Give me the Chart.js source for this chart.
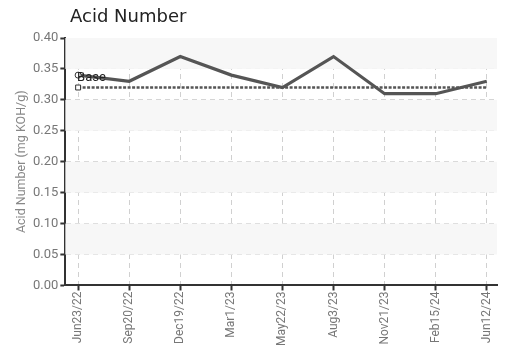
<!DOCTYPE html>
<html>
<head>
<meta charset="utf-8">
<script src="https://cdn.jsdelivr.net/npm/chart.js@4"></script>
<style>
    html, body { margin: 0; padding: 0; background: #fff; }
    #wrap { position: relative; width: 506px; height: 347px; }
    #title {
        position: absolute; left: 70px; top: 5px;
        font-family: 'DejaVu Sans', sans-serif; font-size: 18px; color: #222;
    }
</style>
</head>
<body>
<div id="wrap">
    <canvas id="acid-chart" width="506" height="347"></canvas>
    <div id="title">Acid Number</div>
</div>
<script>
// Sample dates and measured acid number
const dateLabels = ['Jun23/22', 'Sep20/22', 'Dec19/22', 'Mar1/23', 'May22/23', 'Aug3/23', 'Nov21/23', 'Feb15/24', 'Jun12/24'];
const acidValues = [0.34, 0.33, 0.37, 0.34, 0.32, 0.37, 0.31, 0.31, 0.33];
const baseValues = [0.32, 0.32, 0.32, 0.32, 0.32, 0.32, 0.32, 0.32, 0.32];
const yTicks = [0, 0.05, 0.10, 0.15, 0.20, 0.25, 0.30, 0.35, 0.40];

const narrowFont = "Roboto, sans-serif";

function toPoints(values) {
    return values.map((v, i) => ({ x: i, y: v }));
}

// alternating light bands behind the grid
const bandsPlugin = {
    id: 'bands',
    beforeDatasetsDraw(chart) {
        const { ctx, chartArea, scales } = chart;
        ctx.save();
        ctx.fillStyle = '#f7f7f7';
        for (let i = yTicks.length - 1; i > 0; i -= 2) {
            const top = scales.y.getPixelForValue(yTicks[i]);
            const bottom = scales.y.getPixelForValue(yTicks[i - 1]);
            ctx.fillRect(chartArea.left, top, chartArea.right - chartArea.left, bottom - top);
        }
        ctx.restore();
    }
};

// "Base" label next to the first base point
const baseLabelPlugin = {
    id: 'baseLabel',
    afterDatasetsDraw(chart) {
        const { ctx, scales } = chart;
        const x = scales.x.getPixelForValue(0);
        const y = scales.y.getPixelForValue(baseValues[0]);
        ctx.save();
        ctx.font = '13px ' + narrowFont;
        ctx.fillStyle = '#222';
        ctx.textBaseline = 'bottom';
        ctx.fillText('Base', x - 1, y - 3);
        ctx.restore();
    }
};

const ctx = document.getElementById('acid-chart').getContext('2d');
new Chart(ctx, {
    type: 'line',
    data: {
        datasets: [{
            data: toPoints(acidValues),
            borderColor: '#555',
            borderWidth: 3.2,
            tension: 0,
            pointRadius: acidValues.map((v, i) => i === 0 ? 3 : 0),
            pointBackgroundColor: '#fff',
            pointBorderColor: '#333',
            pointBorderWidth: 1,
        }, {
            data: toPoints(baseValues),
            borderColor: '#555',
            borderWidth: 2.5,
            borderDash: [3, 1.5],
            tension: 0,
            pointStyle: 'rect',
            pointRadius: baseValues.map((v, i) => i === 0 ? 3.5 : 0),
            pointBackgroundColor: '#fff',
            pointBorderColor: '#333',
            pointBorderWidth: 1,
        }]
    },
    options: {
        responsive: false,
        animation: false,
        layout: { padding: { top: 38, right: 9, left: 12, bottom: 0 } },
        plugins: {
            legend: { display: false },
            tooltip: { enabled: false }
        },
        scales: {
            x: {
                type: 'linear',
                min: -0.25,
                max: 8.2,
                afterBuildTicks: (scale) => {
                    scale.ticks = dateLabels.map((_, i) => ({ value: i }));
                },
                grid: { color: '#d0d0d0', tickColor: '#333', tickWidth: 2, tickLength: 5 },
                border: { color: '#333', width: 2, dash: [5, 4] },
                ticks: {
                    color: '#777',
                    font: { size: 12, family: narrowFont },
                    maxRotation: 90,
                    minRotation: 90,
                    autoSkip: false,
                    padding: 1,
                    callback: (v) => dateLabels[v]
                }
            },
            y: {
                min: 0,
                max: 0.4,
                grid: { color: '#d0d0d0', tickColor: '#333', tickWidth: 2, tickLength: 5 },
                border: { color: '#333', width: 2, dash: [5, 4] },
                ticks: {
                    stepSize: 0.05,
                    color: '#777',
                    font: { size: 13, family: narrowFont },
                    padding: 2,
                    callback: (v) => v.toFixed(2)
                },
                title: {
                    display: true,
                    text: 'Acid Number (mg KOH/g)',
                    color: '#888',
                    font: { size: 12.5, family: narrowFont },
                    padding: 2
                }
            }
        }
    },
    plugins: [bandsPlugin, baseLabelPlugin]
});
</script>
</body>
</html>
